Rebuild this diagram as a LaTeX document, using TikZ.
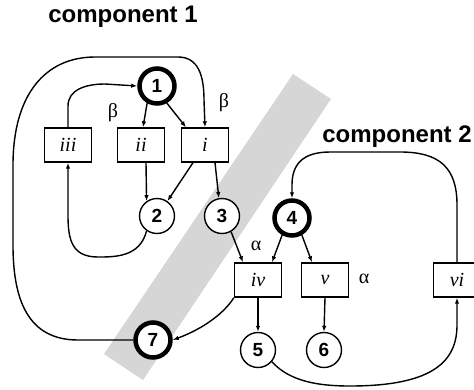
\documentclass[tikz,border=0pt]{standalone}
\usepackage{fontspec}
\setmainfont{Liberation Serif}
\setsansfont{Liberation Sans}
\usetikzlibrary{arrows.meta}
\begin{document}
\begin{tikzpicture}[x=1pt,y=-1pt,
  line width=1.4pt,
  arr/.style={-{Latex[length=6pt,width=4.5pt]}},
  place/.style={circle,draw,fill=white,minimum size=35pt,inner sep=0pt,
    font=\sffamily\bfseries\fontsize{19}{19}\selectfont},
  init/.style={place,line width=4.5pt},
  trans/.style={rectangle,draw,fill=white,minimum width=47pt,minimum height=34pt,
    inner sep=0pt,font=\itshape\fontsize{20}{20}\selectfont},
  title/.style={font=\sffamily\bfseries\fontsize{24}{24}\selectfont},
  weight/.style={font=\fontsize{20}{20}\selectfont}
]
\useasboundingbox (0,0) rectangle (474,389);

% shaded band separating the two components
\fill[black!16] (293,74) -- (331,99) -- (143,380) -- (104,354) -- cycle;

% titles
\node[title] (c1) at (123,17) {component 1};
\node[title] (c2) at (397,137) {component 2};

% places
\node[init]  (n1) at (157,86)  {1};
\node[place] (n2) at (157,216) {2};
\node[place] (n3) at (222,216) {3};
\node[init]  (n4) at (292,218) {4};
\node[place] (n5) at (258,350) {5};
\node[place] (n6) at (324,350) {6};
\node[init]  (n7) at (153,340) {7};

% transitions
\node[trans] (t3) at (68,145)  {iii};
\node[trans] (t2) at (141,145) {ii};
\node[trans] (t1) at (205,145) {i};
\node[trans] (t4) at (258,280) {iv};
\node[trans] (t5) at (325,280) {v};
\node[trans] (t6) at (457,280) {vi};

% weights
\node[weight] (b1) at (113,113) {β};
\node[weight] (b2) at (224,103) {β};
\node[weight] (a1) at (256,246) {α};
\node[weight] (a2) at (364,279) {α};

% component 1 arcs
\draw[arr] (t3.north) -- (68,106) .. controls (68,90) and (85,84) .. (105,84) -- (n1.west);
\draw[arr] (n1.240) -- ([xshift=2pt]t2.north);
\draw[arr] (n1.300) -- ([xshift=-19pt]t1.north);
\draw[arr] ([xshift=5pt]t2.south) -- (n2.125);
\draw[arr] ([xshift=-12pt]t1.south) -- (n2.55);
\draw[arr] ([xshift=10pt]t1.south) -- (n3.100);
\draw[arr] (n2.235) .. controls (140,257) and (115,257) .. (98,257)
  .. controls (72,257) and (68,240) .. (68,215) -- (t3.south);

% long return arc from 7 into i
\draw[arr] (n7.west) -- (78,340) .. controls (28,340) and (13,300) .. (13,245)
  -- (13,165) .. controls (13,95) and (45,57) .. (95,57) -- (178,57)
  .. controls (198,57) and (204,75) .. (204,100) -- (t1.north);

% links across the band
\draw[arr] (n3.300) -- ([xshift=-15pt]t4.north);
\draw[arr] (t4.south west) .. controls (225,312) and (205,328) .. (n7.east);

% component 2 arcs
\draw[arr] (n4.240) -- ([xshift=14pt]t4.north);
\draw[arr] (n4.300) -- ([xshift=-13pt]t5.north);
\draw[arr] (t4.south) -- (n5.north);
\draw[arr] (t5.south) -- (n6.north);
\draw[arr] (n5.-40) .. controls (290,382) and (320,386) .. (350,386)
  .. controls (435,386) and (457,360) .. (457,325) -- (t6.south);
\draw[arr] (t6.north) -- (457,205) .. controls (457,168) and (440,152) .. (400,152)
  -- (330,152) .. controls (302,152) and (292,165) .. (292,185) -- (n4.north);
\end{tikzpicture}
\end{document}
